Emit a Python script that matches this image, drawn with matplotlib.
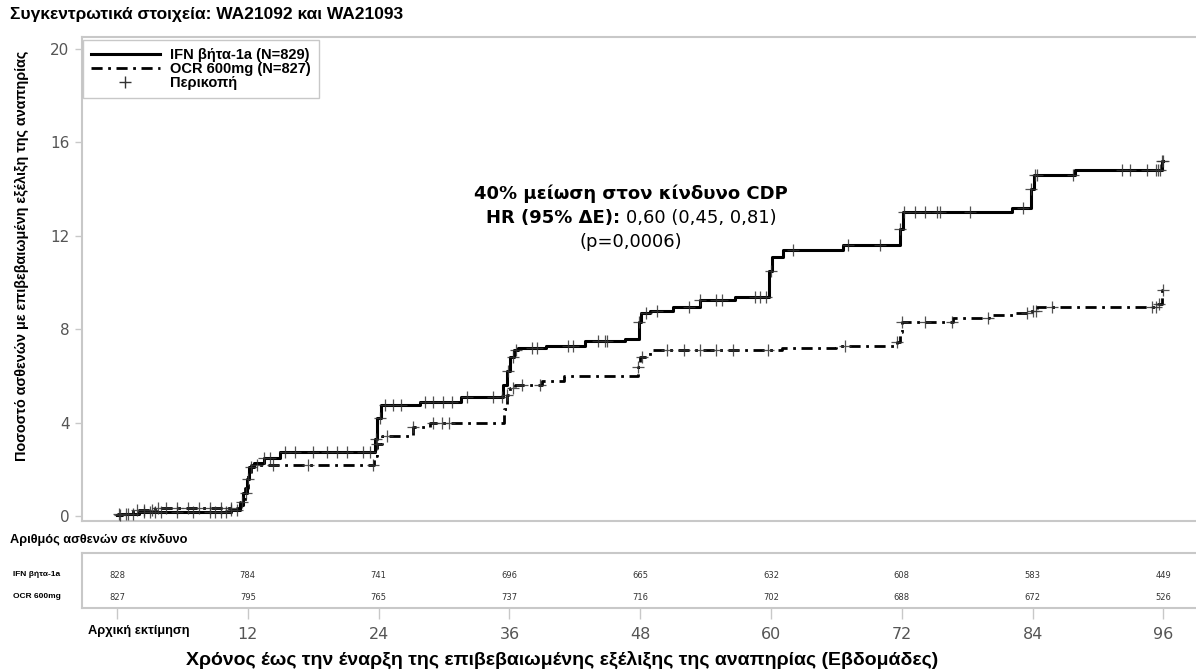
import numpy as np
import matplotlib.pyplot as plt
from matplotlib.lines import Line2D

W, H = 1196, 672

# Kaplan-Meier style step curves: weeks vs % of patients with CDP
ifn_weeks = [0, 0.5, 2, 10.5, 11.3, 11.6, 11.9, 12.1, 12.6, 13.5, 15.0, 23.7, 23.9, 24.2,
             27.8, 31.6, 35.4, 35.8, 36.1, 36.4, 36.8, 39.4, 42.9, 46.6, 47.9, 48.1, 48.9,
             51.0, 53.5, 56.7, 59.8, 60.1, 61.1, 66.6, 71.8, 72.1, 82.1, 83.9, 84.1, 87.9,
             95.9, 96]
ifn_pct = [0.05, 0.12, 0.18, 0.25, 0.5, 1.0, 1.6, 2.1, 2.3, 2.5, 2.75, 3.3, 4.2, 4.75,
           4.9, 5.1, 5.6, 6.2, 6.8, 7.1, 7.2, 7.3, 7.5, 7.6, 8.3, 8.7, 8.8,
           8.95, 9.25, 9.4, 10.5, 11.1, 11.4, 11.6, 12.3, 13.0, 13.2, 14.0, 14.6, 14.8,
           15.2, 15.2]

ocr_weeks = [0, 1.5, 3.5, 11.3, 11.7, 12.0, 12.3, 23.6, 23.9, 24.3, 27.2, 28.7, 35.5,
             35.8, 36.1, 36.5, 39.0, 41.0, 47.8, 48.0, 48.9, 61.0, 66.0, 71.6, 71.8, 72.0,
             76.7, 80.0, 82.2, 83.8, 84.4, 95.5, 95.9, 96]
ocr_pct = [0.1, 0.25, 0.35, 0.6, 1.2, 1.8, 2.2, 2.6, 3.1, 3.45, 3.8, 4.0, 4.6,
           5.2, 5.5, 5.6, 5.8, 6.0, 6.4, 6.8, 7.1, 7.2, 7.3, 7.45, 7.9, 8.3,
           8.5, 8.6, 8.7, 8.8, 8.95, 9.1, 9.7, 9.7]

# censored observations (weeks)
ifn_censor = [0.3, 0.8, 1.5, 2.5, 3.0, 3.5, 4.0, 5.5, 7.0, 8.5, 9.0, 9.5, 10.0, 10.5, 11.0,
              11.8, 12.0, 12.3, 13.5, 14.0, 15.4, 16.3, 18.0, 19.3, 20.2, 21.1, 22.6, 23.2,
              23.8, 24.1, 24.6, 25.3, 26.1, 28.3, 29.0, 29.9, 30.7, 32.1, 34.5, 35.3, 35.9,
              36.3, 36.6, 38.1, 38.5, 41.4, 41.8, 44.1, 44.8, 45.0, 47.9, 48.5, 49.5, 52.5,
              53.5, 55.0, 55.5, 58.5, 59.0, 59.5, 60.0, 62.0, 67.1, 70.0, 71.8, 72.2, 73.2,
              74.1, 75.2, 75.5, 78.3, 83.1, 83.9, 84.2, 84.4, 87.7, 92.2, 92.9, 94.5, 95.3,
              95.5, 95.7, 95.9, 96.0]
ocr_censor = [0.2, 1.0, 1.8, 2.5, 3.2, 3.8, 4.5, 5.5, 6.5, 7.5, 8.5, 9.5, 10.5, 11.5,
              12.8, 14.3, 17.5, 23.5, 23.9, 24.8, 27.2, 29.0, 29.8, 30.5, 35.8, 36.3, 37.2,
              38.8, 47.8, 48.2, 50.5, 52.0, 53.5, 55.0, 56.5, 59.7, 66.8, 71.6, 72.0, 74.1,
              76.6, 79.9, 83.5, 84.0, 84.3, 85.8, 95.0, 95.3, 95.6, 96.0]

# numbers at risk
risk_weeks = [0, 12, 24, 36, 48, 60, 72, 84, 96]
ifn_risk = [828, 784, 741, 696, 665, 632, 608, 583, 449]
ocr_risk = [827, 795, 765, 737, 716, 702, 688, 672, 526]

xticks = [0, 12, 24, 36, 48, 60, 72, 84, 96]
yticks = [0, 4, 8, 12, 16, 20]

GRID = '#c8c8c8'
TXT = '#555555'


def step_at(ts, ys, t):
    i = np.searchsorted(ts, t, side='right') - 1
    return ys[max(i, 0)]


def frac(x, y):
    return x / W, 1 - y / H


plt.rcParams['font.family'] = ['DejaVu Sans']
fig = plt.figure(figsize=(W / 100, H / 100), dpi=100)
XLIM = (-3.21, 98.9)

# main panel
ax = fig.add_axes([82 / W, 1 - 521 / H, (1195 - 82) / W, (521 - 37) / H])
ax.set_xlim(*XLIM)
ax.set_ylim(-0.2, 20.5)

ocr_style = (0, (4, 2, 1, 2))
ax.step(ifn_weeks, ifn_pct, where='post', color='black', lw=2.2, zorder=3)
ax.step(ocr_weeks, ocr_pct, where='post', color='black', lw=2.0, linestyle=ocr_style, zorder=3)

ifn_cy = [step_at(ifn_weeks, ifn_pct, t) for t in ifn_censor]
ocr_cy = [step_at(ocr_weeks, ocr_pct, t) for t in ocr_censor]
ax.plot(ifn_censor, ifn_cy, ls='none', marker='+', ms=8, mew=0.9, color='#333333', alpha=0.85, zorder=4)
ax.plot(ocr_censor, ocr_cy, ls='none', marker='+', ms=8, mew=0.9, color='#333333', alpha=0.85, zorder=4)

ax.tick_params(axis='x', bottom=False, labelbottom=False)
ax.set_yticks(yticks)
ax.set_yticklabels([str(v) for v in yticks], fontsize=11, color=TXT)
ax.tick_params(axis='y', length=5, color=GRID, width=1, pad=4)
for side in ['top', 'left', 'bottom']:
    ax.spines[side].set_color(GRID)
    ax.spines[side].set_linewidth(1.5)
ax.spines['right'].set_visible(False)

handles = [Line2D([], [], color='black', lw=2.2),
           Line2D([], [], color='black', lw=2.0, linestyle=ocr_style),
           Line2D([], [], color='#333333', ls='none', marker='+', ms=9, mew=1)]
labels = ['IFN βήτα-1a (N=829)', 'OCR 600mg (N=827)', 'Περικοπή']
leg = ax.legend(handles, labels, loc='upper left', bbox_to_anchor=(0.001, 0.994),
                prop={'family': 'Liberation Sans', 'weight': 'bold', 'size': 10.5},
                handlelength=4.7, handletextpad=0.7, labelspacing=0.0,
                borderpad=0.55, frameon=True, fancybox=False, borderaxespad=0)
leg.get_frame().set_edgecolor('#bbbbbb')
leg.get_frame().set_linewidth(1)

# hazard ratio annotation
ax.text(47.1, 13.8, '40% μείωση στον κίνδυνο CDP', ha='center', va='center',
        fontsize=13, fontweight='bold')
hr = ax.text(46.2, 12.75, 'HR (95% ΔΕ):', ha='right', va='center', fontsize=13, fontweight='bold')
ax.annotate('0,60 (0,45, 0,81)', xy=(1, 0), xycoords=hr, xytext=(4, 0),
            textcoords='offset points', ha='left', va='bottom', fontsize=13)
ax.text(47.1, 11.75, '(p=0,0006)', ha='center', va='center', fontsize=13)

# numbers-at-risk table
tab = fig.add_axes([82 / W, 1 - 608 / H, (1195 - 82) / W, (608 - 553) / H])
tab.set_xlim(*XLIM)
tab.set_ylim(0, 1)
tab.set_yticks([])
for side in ['top', 'left', 'bottom']:
    tab.spines[side].set_color(GRID)
    tab.spines[side].set_linewidth(1.5)
tab.spines['right'].set_visible(False)
for w, a, b in zip(risk_weeks, ifn_risk, ocr_risk):
    tab.text(w, 0.6, str(a), ha='center', va='center', fontsize=6, color='#333333')
    tab.text(w, 0.2, str(b), ha='center', va='center', fontsize=6, color='#333333')
tab.set_xticks(xticks)
tab.set_xticklabels([''] + [str(v) for v in xticks[1:]], fontsize=11.5, color=TXT)
tab.tick_params(axis='x', length=8, color=GRID, width=1, pad=6)
tab.text(-2.7, -0.42, 'Αρχική εκτίμηση', ha='left', va='center', fontsize=9.3,
         fontweight='bold', family='Liberation Sans', transform=tab.get_xaxis_transform())

bold = {'family': 'Liberation Sans', 'weight': 'bold'}
fig.text(*frac(13, 575), 'IFN βήτα-1a', ha='left', va='center', fontsize=6, **bold)
fig.text(*frac(13, 597), 'OCR 600mg', ha='left', va='center', fontsize=6, **bold)
fig.text(*frac(10, 540), 'Αριθμός ασθενών σε κίνδυνο', ha='left', va='center', fontsize=9.2, **bold)

fig.text(*frac(10, 15), 'Συγκεντρωτικά στοιχεία: WA21092 και WA21093', ha='left', va='center',
         fontsize=12.5, **bold)
fig.text(*frac(22, 256), 'Ποσοστό ασθενών με επιβεβαιωμένη εξέλιξη της αναπηρίας', rotation=90,
         ha='center', va='center', fontsize=10.4, **bold)
fig.text(*frac(562, 660), 'Χρόνος έως την έναρξη της επιβεβαιωμένης εξέλιξης της αναπηρίας (Εβδομάδες)',
         ha='center', va='center', fontsize=14, **bold)

fig.savefig('out.png', dpi=100)
